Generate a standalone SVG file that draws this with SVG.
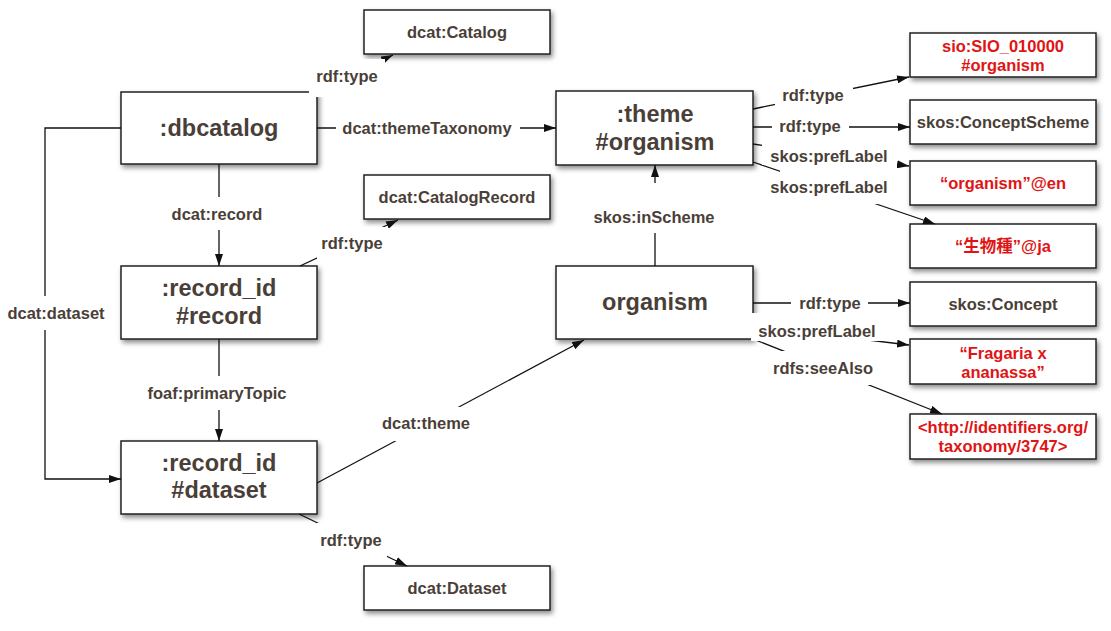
<svg xmlns="http://www.w3.org/2000/svg" width="1111" height="631" viewBox="0 0 1111 631">
<style>
.box{fill:#fff;stroke:#222;stroke-width:1.5;filter:url(#sh)}
.big{font-family:"Liberation Sans",Arial,sans-serif;font-weight:bold;font-size:23.5px;fill:#4a3f38;text-anchor:middle}
.sm{font-family:"Liberation Sans",Arial,sans-serif;font-weight:bold;font-size:16.5px;fill:#4a3f38;text-anchor:middle}
.red{fill:#e01414}
.edge{fill:none;stroke:#111;stroke-width:1.3;marker-end:url(#ah)}
.lbg{fill:#fff}
</style>
<defs>
<filter id="sh" x="-10%" y="-20%" width="125%" height="150%">
<feDropShadow dx="2" dy="3" stdDeviation="2.5" flood-color="#000" flood-opacity="0.45"/>
</filter>
<marker id="ah" viewBox="0 0 12 8" refX="12" refY="4" markerWidth="12" markerHeight="8" markerUnits="userSpaceOnUse" orient="auto">
<path d="M0,0 L12,4 L0,8 z" fill="#111"/>
</marker>
</defs>
<rect width="1111" height="631" fill="#fff"/>

<g id="n-catalog"><rect class="box" x="364" y="10" width="186" height="44"/><text class="sm" x="457" y="38">dcat:Catalog</text></g>
<g id="n-dbcatalog"><rect class="box" x="121" y="92" width="196" height="72"/><text class="big" x="219" y="136">:dbcatalog</text></g>
<g id="n-catalogrecord"><rect class="box" x="364" y="175" width="186" height="44"/><text class="sm" x="457" y="203">dcat:CatalogRecord</text></g>
<g id="n-record"><rect class="box" x="121" y="266" width="196" height="73"/><text class="big" x="219" y="296">:record_id</text><text class="big" x="219" y="324">#record</text></g>
<g id="n-dataset"><rect class="box" x="121" y="441" width="196" height="73"/><text class="big" x="219" y="471">:record_id</text><text class="big" x="219" y="498">#dataset</text></g>
<g id="n-dcatdataset"><rect class="box" x="364" y="566" width="186" height="44"/><text class="sm" x="457" y="594">dcat:Dataset</text></g>
<g id="n-theme"><rect class="box" x="556" y="91" width="197" height="74"/><text class="big" x="655" y="122">:theme</text><text class="big" x="655" y="150">#organism</text></g>
<g id="n-organism"><rect class="box" x="556" y="266" width="197" height="73"/><text class="big" x="655" y="310">organism</text></g>
<g id="n-sio"><rect class="box" x="910" y="33" width="186" height="44"/><text class="sm red" x="1003" y="52">sio:SIO_010000</text><text class="sm red" x="1003" y="71">#organism</text></g>
<g id="n-conceptscheme"><rect class="box" x="910" y="100" width="186" height="44"/><text class="sm" x="1003" y="128">skos:ConceptScheme</text></g>
<g id="n-en"><rect class="box" x="910" y="161" width="186" height="44"/><text class="sm red" x="1003" y="189">“organism”@en</text></g>
<g id="n-ja"><rect class="box" x="910" y="224" width="186" height="44"/><text class="sm red" x="1003" y="252" style="font-family:'Liberation Sans','Noto Sans CJK JP',sans-serif">“生物種”@ja</text></g>
<g id="n-concept"><rect class="box" x="910" y="282" width="186" height="44"/><text class="sm" x="1003" y="310">skos:Concept</text></g>
<g id="n-fragaria"><rect class="box" x="910" y="339" width="186" height="45"/><text class="sm red" x="1003" y="359">“Fragaria x</text><text class="sm red" x="1003" y="378">ananassa”</text></g>
<g id="n-taxonomy"><rect class="box" x="910" y="414" width="186" height="45"/><text class="sm red" x="1003" y="433">&lt;http://identifiers.org/</text><text class="sm red" x="1003" y="452">taxonomy/3747&gt;</text></g>

<g id="connectors">
<line class="edge" x1="317" y1="92" x2="393" y2="55"/>
<line class="edge" x1="317" y1="128" x2="556" y2="128"/>
<line class="edge" x1="219" y1="164" x2="219" y2="266"/>
<line class="edge" x1="300" y1="266" x2="398" y2="220"/>
<line class="edge" x1="219" y1="339" x2="219" y2="441"/>
<polyline class="edge" points="121,128 45,128 45,479 121,479"/>
<line class="edge" x1="317" y1="483" x2="584" y2="340"/>
<line class="edge" x1="299" y1="514" x2="407" y2="566"/>
<line class="edge" x1="655" y1="266" x2="655" y2="165"/>
<line class="edge" x1="753" y1="109" x2="909" y2="77"/>
<line class="edge" x1="753" y1="127" x2="910" y2="127"/>
<line class="edge" x1="753" y1="144" x2="909" y2="166"/>
<line class="edge" x1="753" y1="162" x2="935" y2="224"/>
<line class="edge" x1="753" y1="303" x2="910" y2="303"/>
<line class="edge" x1="753" y1="326" x2="909" y2="345"/>
<line class="edge" x1="753" y1="339" x2="942" y2="414"/>

<rect class="lbg" x="309" y="59" width="76" height="38"/>
<rect class="lbg" x="336" y="112" width="184" height="32"/>
<rect class="lbg" x="166" y="197" width="102" height="33"/>
<rect class="lbg" x="317" y="227" width="70" height="32"/>
<rect class="lbg" x="3" y="296" width="106" height="34"/>
<rect class="lbg" x="144" y="376" width="146" height="34"/>
<rect class="lbg" x="376" y="407" width="100" height="34"/>
<rect class="lbg" x="317" y="523" width="70" height="34"/>
<rect class="lbg" x="590" y="183" width="128" height="50"/>
<rect class="lbg" x="775" y="80" width="78" height="32"/>
<rect class="lbg" x="772" y="110" width="77" height="32"/>
<rect class="lbg" x="762" y="142" width="135" height="23"/>
<rect class="lbg" x="780" y="170" width="99" height="34"/>
<rect class="lbg" x="791" y="287" width="77" height="32"/>
<rect class="lbg" x="751" y="313" width="133" height="28"/>
<rect class="lbg" x="766" y="351" width="114" height="34"/>

<text class="sm" x="347" y="82">rdf:type</text>
<text class="sm" x="427" y="134">dcat:themeTaxonomy</text>
<text class="sm" x="217" y="220">dcat:record</text>
<text class="sm" x="352" y="249">rdf:type</text>
<text class="sm" x="56" y="319">dcat:dataset</text>
<text class="sm" x="217" y="399">foaf:primaryTopic</text>
<text class="sm" x="426" y="429">dcat:theme</text>
<text class="sm" x="351" y="546">rdf:type</text>
<text class="sm" x="654" y="223">skos:inScheme</text>
<text class="sm" x="813" y="101">rdf:type</text>
<text class="sm" x="810" y="132">rdf:type</text>
<text class="sm" x="829" y="162">skos:prefLabel</text>
<text class="sm" x="829" y="193">skos:prefLabel</text>
<text class="sm" x="830" y="309">rdf:type</text>
<text class="sm" x="817" y="337">skos:prefLabel</text>
<text class="sm" x="823" y="374">rdfs:seeAlso</text>
</g>
</svg>
